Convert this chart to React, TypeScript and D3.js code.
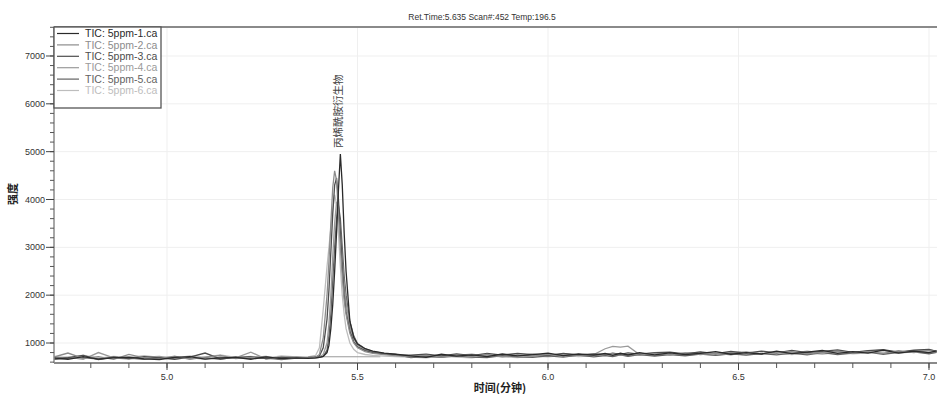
import React from "react";
import * as d3 from "d3";

// retention time (min), shared by all traces
const times = [
  4.70, 4.74, 4.78, 4.82, 4.86, 4.90, 4.94, 4.98, 5.02, 5.06, 5.10, 5.14, 5.18, 5.22, 5.26, 5.30, 5.34,
  5.37, 5.39, 5.40, 5.41, 5.42, 5.425, 5.43, 5.435, 5.44, 5.445, 5.45, 5.455, 5.46, 5.465, 5.47, 5.48, 5.49, 5.50, 5.52, 5.54, 5.57, 5.60,
  5.64, 5.68, 5.72, 5.76, 5.80, 5.84, 5.88, 5.92, 5.96, 6.00, 6.04, 6.08, 6.12, 6.15, 6.17, 6.19, 6.21,
  6.24, 6.28, 6.32, 6.36, 6.40, 6.44, 6.48, 6.52, 6.56, 6.60, 6.64, 6.68, 6.72, 6.76, 6.80, 6.84, 6.88, 6.92, 6.96, 7.00, 7.02,
];

const tic1 = [
  690, 660, 715, 665, 690, 705, 670, 655, 700, 715, 665, 690, 700, 660, 710, 675, 690,
  680, 690, 700, 720, 800, 950, 1300, 1800, 2500, 3300, 4200, 4950, 4300, 3300, 2500, 1450, 1120, 980, 880, 830, 790, 765,
  730, 700, 765, 725, 750, 715, 770, 730, 755, 790, 735, 770, 745, 780, 740, 785, 750,
  800, 750, 795, 760, 785, 820, 765, 800, 770, 830, 780, 810, 845, 785, 820, 790, 850, 790, 830, 800, 835,
];
const tic2 = [
  700, 790, 680, 715, 660, 760, 690, 670, 725, 660, 705, 740, 675, 700, 720, 665, 700,
  690, 700, 760, 1100, 2000, 2700, 3500, 4250, 4600, 4400, 3700, 3000, 2400, 1900, 1600, 1200, 1000, 900, 820, 785, 755, 735,
  710, 745, 705, 750, 715, 760, 710, 755, 725, 765, 720, 760, 735, 760, 775, 740, 770,
  745, 785, 755, 795, 760, 790, 755, 805, 770, 800, 820, 775, 805, 830, 790, 820, 785, 840, 800, 840, 815,
];
const tic3 = [
  665, 695, 740, 655, 705, 675, 715, 690, 660, 705, 790, 670, 695, 715, 675, 705, 695,
  700, 710, 730, 900, 1500, 2100, 2900, 3700, 4300, 4450, 4000, 3300, 2600, 2000, 1650, 1250, 1030, 920, 840, 800, 770, 750,
  745, 765, 730, 770, 735, 780, 745, 785, 755, 735, 785, 750, 770, 755, 790, 760, 795,
  765, 800, 810, 770, 815, 780, 825, 790, 830, 795, 845, 800, 825, 855, 805, 840, 860, 810, 850, 865, 825,
];
const tic4 = [
  680, 705, 660, 800, 690, 665, 705, 720, 675, 690, 665, 710, 690, 810, 665, 690, 710,
  690, 700, 710, 760, 1000, 1400, 2000, 2800, 3500, 3950, 3800, 3300, 2700, 2200, 1850, 1350, 1100, 960, 860, 815, 780, 760,
  720, 750, 715, 740, 765, 725, 755, 730, 770, 740, 775, 745, 760, 880, 930, 915, 935,
  760, 780, 750, 790, 805, 765, 800, 815, 775, 810, 790, 830, 795, 840, 800, 830, 850, 805, 840, 855, 830,
];
const tic5 = [
  655, 680, 695, 665, 705, 685, 660, 695, 705, 675, 695, 660, 710, 680, 690, 655, 685,
  680, 690, 700, 720, 850, 1150, 1600, 2300, 3000, 3600, 3870, 3600, 3000, 2400, 2000, 1450, 1150, 990, 880, 820, 785, 760,
  695, 720, 700, 730, 705, 695, 735, 710, 700, 730, 705, 745, 710, 735, 715, 750, 720,
  755, 725, 760, 730, 770, 740, 775, 745, 780, 750, 790, 755, 800, 760, 790, 810, 765, 805, 815, 775, 805,
];
const tic6 = [
  725, 695, 745, 685, 720, 700, 735, 700, 685, 730, 705, 750, 700, 720, 685, 730, 710,
  710, 740, 900, 1700, 2600, 3000, 3400, 3800, 4100, 3900, 3300, 2600, 2000, 1600, 1300, 1000, 870, 800, 760, 740, 725, 715,
  705, 690, 725, 705, 690, 730, 710, 695, 725, 710, 740, 715, 730, 745, 725, 750, 730,
  760, 735, 770, 740, 775, 745, 780, 755, 785, 790, 760, 800, 765, 810, 775, 795, 815, 785, 820, 790, 820,
];

const seriesNames = [
  "TIC: 5ppm-1.ca",
  "TIC: 5ppm-2.ca",
  "TIC: 5ppm-3.ca",
  "TIC: 5ppm-4.ca",
  "TIC: 5ppm-5.ca",
  "TIC: 5ppm-6.ca",
];
const seriesColors = ["#2a2a2a", "#8c8c8c", "#4d4d4d", "#9a9a9a", "#626262", "#bdbdbd"];

// integration baseline under the peak
const baseT = [5.385, 5.56];
const baseV = [712, 712];

const xTicks = [5.0, 5.5, 6.0, 6.5, 7.0];
const yTicks = [1000, 2000, 3000, 4000, 5000, 6000, 7000];

const W = 937;
const H = 394;
const left = 54;
const right = 937;
const top = 27;
const bottom = 363;
const FONT = "'Liberation Sans', Arial, sans-serif";

const App = () => {
  const x = d3.scaleLinear().domain([4.7034, 7.021]).range([left, right]);
  const y = d3.scaleLinear().domain([582, 7606]).range([bottom, top]);

  const values = [tic1, tic2, tic3, tic4, tic5, tic6];
  const series = values.map((v, i) => ({
    name: seriesNames[i],
    color: seriesColors[i],
    points: times.map((t, j) => [t, v[j]] as [number, number]),
  }));

  const line = d3
    .line<[number, number]>()
    .x((d) => x(d[0]))
    .y((d) => y(d[1]));

  const xMinor = d3.range(4.8, 7.01, 0.1);
  const yMinor = d3.range(600, 7601, 200);

  return (
    <svg
      width={W}
      height={H}
      style={{ position: "absolute", left: 0, top: 0, background: "#fff" }}
      fontFamily={FONT}
    >
      <defs>
        <clipPath id="plot">
          <rect x={left} y={top} width={right - left} height={bottom - top} />
        </clipPath>
      </defs>

      {/* grid */}
      {yTicks.map((t) => (
        <line key={"gy" + t} x1={left} x2={right} y1={y(t)} y2={y(t)} stroke="#efefef" />
      ))}
      {xTicks.map((t) => (
        <line key={"gx" + t} x1={x(t)} x2={x(t)} y1={top} y2={bottom} stroke="#efefef" />
      ))}

      {/* title */}
      <text x={482} y={20} fontSize={8.5} fill="#333" textAnchor="middle">
        Ret.Time:5.635 Scan#:452 Temp:196.5
      </text>

      {/* traces */}
      <g clipPath="url(#plot)" fill="none">
        <path
          d={line(baseT.map((t, j) => [t, baseV[j]] as [number, number])) || ""}
          stroke="#999"
          strokeWidth={1}
        />
        {series
          .slice()
          .reverse()
          .map((s) => (
            <path key={s.name} d={line(s.points) || ""} stroke={s.color} strokeWidth={1.3} />
          ))}
      </g>

      {/* frame */}
      <line x1={left} x2={right} y1={top} y2={top} stroke="#8a8a8a" strokeWidth={2} />
      <line x1={left} x2={left} y1={top} y2={bottom} stroke="#8a8a8a" strokeWidth={1.5} />
      <line x1={left} x2={right} y1={bottom} y2={bottom} stroke="#8a8a8a" strokeWidth={2} />

      {/* y axis ticks */}
      {yMinor.map((t) => (
        <line key={"ym" + t} x1={left - 4} x2={left} y1={y(t)} y2={y(t)} stroke="#555" />
      ))}
      {yTicks.map((t) => (
        <g key={"yt" + t}>
          <line x1={left - 8} x2={left} y1={y(t)} y2={y(t)} stroke="#444" />
          <text x={left - 9} y={y(t)} dy="0.35em" fontSize={9} fill="#333" textAnchor="end">
            {t}
          </text>
        </g>
      ))}

      {/* x axis ticks */}
      {xMinor.map((t) => (
        <line key={"xm" + t.toFixed(1)} x1={x(t)} x2={x(t)} y1={bottom} y2={bottom + 5} stroke="#555" />
      ))}
      {xTicks.map((t) => (
        <g key={"xt" + t}>
          <line x1={x(t)} x2={x(t)} y1={bottom} y2={bottom + 7} stroke="#444" />
          <text x={x(t)} y={380} fontSize={9} fill="#333" textAnchor="middle">
            {t.toFixed(1)}
          </text>
        </g>
      ))}

      {/* axis titles */}
      <text x={500} y={392} fontSize={11} fontWeight="bold" fill="#222" textAnchor="middle"
        fontFamily="'Noto Sans CJK SC', sans-serif">
        时间(分钟)
      </text>
      <text
        transform={`translate(17,194) rotate(-90)`}
        fontSize={11}
        fontWeight="bold"
        fill="#222"
        textAnchor="middle"
        fontFamily="'Noto Sans CJK SC', sans-serif"
      >
        强度
      </text>

      {/* peak annotation */}
      <text
        transform={`translate(${x(5.456) + 1},148) rotate(-90)`}
        fontSize={10.5}
        fill="#444"
        fontFamily="'Noto Sans CJK SC', sans-serif"
      >
        丙烯酰胺衍生物
      </text>

      {/* legend */}
      <rect x={left} y={top} width={107} height={81} fill="#fff" stroke="#555" strokeWidth={1.3} />
      {series.map((s, i) => {
        const ly = 33.5 + i * 11.4;
        return (
          <g key={"lg" + i}>
            <line x1={57} x2={79} y1={ly} y2={ly} stroke={s.color} strokeWidth={1.2} />
            <text x={85} y={ly} dy="0.35em" fontSize={10.5} fill={s.color}>
              {s.name}
            </text>
          </g>
        );
      })}
    </svg>
  );
};

export default App;
